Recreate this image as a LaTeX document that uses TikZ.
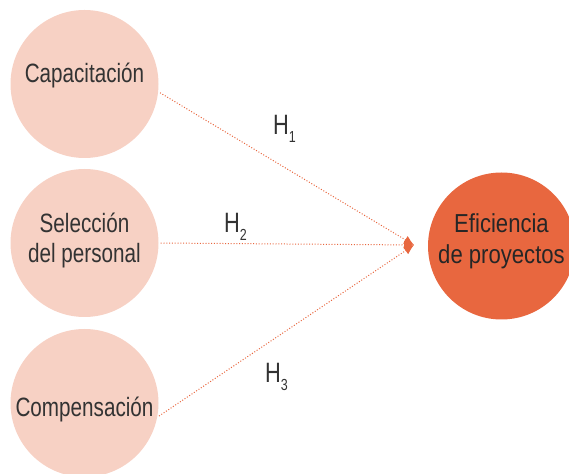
\documentclass[tikz,border=0pt]{standalone}
\usepackage{fontspec}
\setmainfont[FakeStretch=0.78]{Liberation Sans}
\newfontfamily\efifont[FakeStretch=0.85]{Liberation Sans}
\usetikzlibrary{arrows.meta}
\definecolor{lightrose}{HTML}{F7D1C4}
\definecolor{burnt}{HTML}{E8673F}
\definecolor{ink}{HTML}{333333}
\newcommand{\hyp}[1]{H\raisebox{-8pt}{\fontsize{16}{16}\selectfont #1}}
\begin{document}
\begin{tikzpicture}[x=1pt, y=1pt,
		factor/.style={circle, fill=lightrose, minimum size=148pt, inner sep=0pt},
		target/.style={circle, fill=burnt, minimum size=147pt, inner sep=0pt},
		lbl/.style={text=ink, align=center, font=\fontsize{26.5}{30}\selectfont},
		hlbl/.style={text=ink, anchor=base west, inner sep=0pt, font=\fontsize{28}{28}\selectfont},
		link/.style={burnt, line width=1pt, dash pattern=on 1pt off 1.8pt, shorten <=2pt, -{Latex[length=10pt, width=9pt]}}]
		\useasboundingbox (0,0) rectangle (569,473);
		\node[factor] (cap) at (84.5,389) {};
		\node[factor] (sel) at (84.5,230) {};
		\node[factor] (comp) at (84.5,70) {};
		\node[target] (efi) at (501.5,227) {};
		\node[lbl] (capt) at (84.5,397) {Capacitación};
		\node[lbl] (selt) at (84.5,233) {Selección\\del personal};
		\node[lbl] (compt) at (84.5,64) {Compensación};
		\node[lbl, text=black!85, font=\efifont\fontsize{26}{31}\selectfont] (efit) at (501.5,232) {Eficiencia\\de proyectos};
		\coordinate (tip) at (414,228);
		\draw[link] (cap.-6) -- (tip);
		\draw[link] (sel.east) -- (tip);
		\draw[link] (comp.-11) -- (tip);
		\node[hlbl] (h1) at (273,338) {\hyp{1}};
		\node[hlbl] (h2) at (224,240) {\hyp{2}};
		\node[hlbl] (h3) at (265,90) {\hyp{3}};
	\end{tikzpicture}
\end{document}
